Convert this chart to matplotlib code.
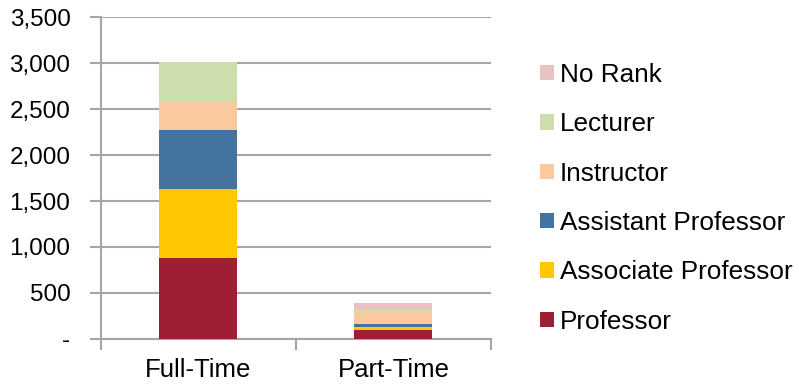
import numpy as np
import matplotlib
matplotlib.use("Agg")
import matplotlib.pyplot as plt
from matplotlib.ticker import FuncFormatter

plt.rcParams["font.family"] = ["Liberation Sans", "DejaVu Sans"]

categories = ["Full-Time", "Part-Time"]
ranks = ["Professor", "Associate Professor", "Assistant Professor",
         "Instructor", "Lecturer", "No Rank"]
professor = [882, 94]
associate = [752, 40]
assistant = [635, 25]
instructor = [308, 142]
lecturer = [436, 18]
no_rank = [3, 69]
colors = ["#9E1F35", "#FFC800", "#44739F", "#FBC9A0", "#CDDDAC", "#E9C3C3"]

series = [professor, associate, assistant, instructor, lecturer, no_rank]

fig = plt.figure(figsize=(7.99, 3.85), dpi=100)
ax = fig.add_axes([0.1264, 0.1195, 0.4881, 0.8363])

x = np.arange(len(categories))
bottom = np.zeros(len(categories))
handles = []
for vals, name, col in zip(series, ranks, colors):
    b = ax.bar(x, vals, width=0.4, bottom=bottom, color=col, label=name, zorder=3)
    handles.append(b)
    bottom += np.array(vals)

grid_col = "#A6A6A6"
ax.set_xlim(-0.5, 1.5)
ax.set_ylim(0, 3500)
ax.set_yticks(np.arange(0, 3501, 500))
ax.yaxis.set_major_formatter(FuncFormatter(lambda v, p: "-" if v == 0 else f"{int(v):,}"))
ax.yaxis.grid(True, color=grid_col, linewidth=1.5, zorder=0)
ax.set_axisbelow(True)

# category labels centred, tick marks at the boundaries
ax.set_xticks(x)
ax.set_xticklabels(categories)
ax.set_xticks([-0.5, 0.5, 1.5], minor=True)
ax.tick_params(axis="x", which="major", length=0, pad=14, labelsize=18.5)
ax.tick_params(axis="x", which="minor", length=8, width=1.5, color=grid_col, direction="out")
ax.tick_params(axis="y", length=8, width=1.5, color=grid_col, pad=14, labelsize=17.5)

for s in ["top", "right"]:
    ax.spines[s].set_visible(False)
for s in ["left", "bottom"]:
    ax.spines[s].set_color(grid_col)
    ax.spines[s].set_linewidth(1.5)

fig.legend(handles[::-1], ranks[::-1], loc="center left",
           bbox_to_anchor=(0.663, 0.485), frameon=False, fontsize=18.8,
           handlelength=0.53, handleheight=0.53, handletextpad=0.22,
           labelspacing=0.97, borderaxespad=0)

fig.savefig("out.png", dpi=100)
